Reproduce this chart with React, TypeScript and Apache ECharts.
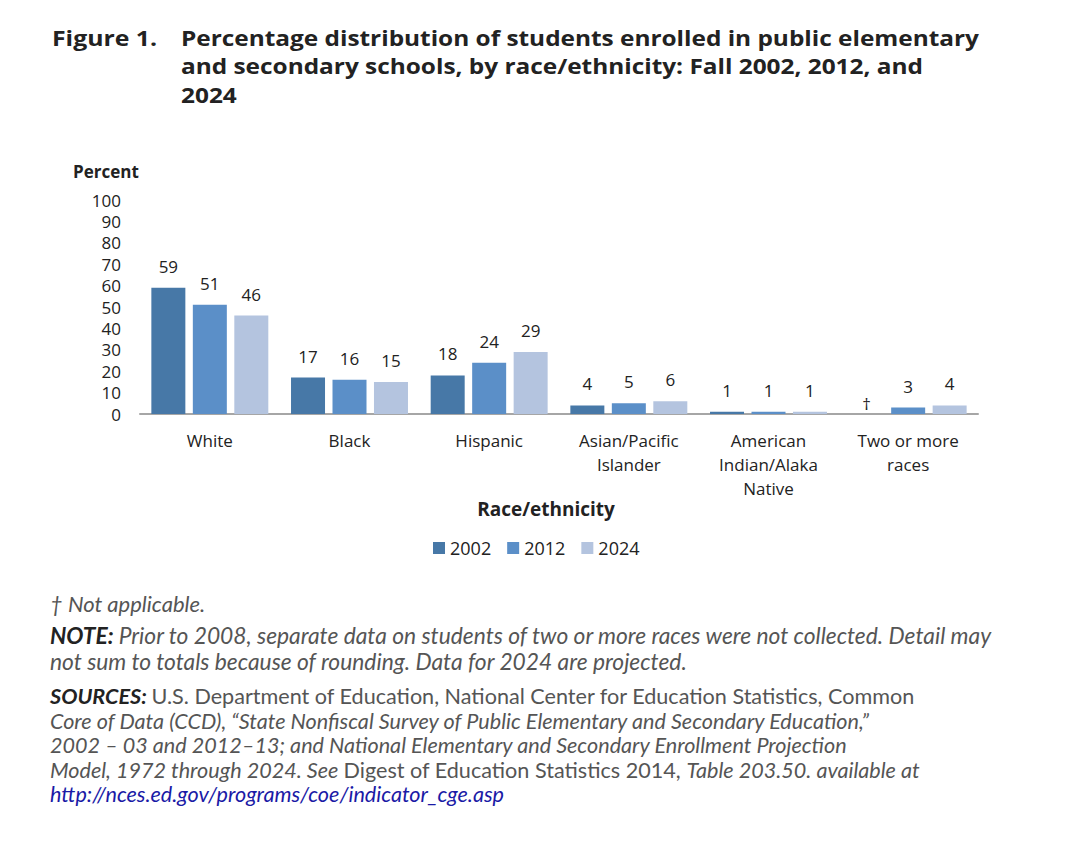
import React, { useEffect, useRef } from "react";
import * as echarts from "echarts";

const categories = [
  "White",
  "Black",
  "Hispanic",
  "Asian/Pacific\nIslander",
  "American\nIndian/Alaka\nNative",
  "Two or more\nraces",
];
const years = ["2002", "2012", "2024"];
const values2002: (number | null)[] = [59, 17, 18, 4, 1, null];
const values2012: (number | null)[] = [51, 16, 24, 5, 1, 3];
const values2024: (number | null)[] = [46, 15, 29, 6, 1, 4];
const yTicks = { min: 0, max: 100, interval: 10 };
const colors = ["#4778a7", "#5b8fc8", "#b4c4df"];
const titleLines = [
  "Percentage distribution of students enrolled in public elementary",
  "and secondary schools, by race/ethnicity: Fall 2002, 2012, and",
  "2024",
];

const chartFont = "'Open Sans', 'Noto Sans', sans-serif";
const textFont = "Lato, 'Open Sans', sans-serif";

export default function App() {
  const ref = useRef<HTMLDivElement>(null);
  useEffect(() => {
    document.body.style.margin = "0";
    if (!ref.current) return;
    const chart = echarts.init(ref.current, null, { renderer: "svg" });
    const mkSeries = (name: string, vals: (number | null)[], color: string) => ({
      name,
      type: "bar",
      barWidth: 34,
      barGap: "22%",
      itemStyle: { color },
      label: {
        show: true,
        position: "top",
        distance: 13,
        color: "#222",
        fontSize: 17,
        fontFamily: chartFont,
      },
      data: vals.map((v) =>
        v === null
          ? { value: 0, label: { formatter: "\u2020", distance: 2 } }
          : v
      ),
    });
    const italic = (size: number) => ({
      fontFamily: textFont,
      fontStyle: "italic",
      fontSize: size,
      fill: "#555",
    });
    const bold = (size: number) => ({
      fontFamily: textFont,
      fontStyle: "italic",
      fontWeight: "bold",
      fontSize: size,
      fill: "#222",
    });
    const titleStyle = {
      fontFamily: chartFont,
      fontWeight: "bold",
      fontSize: 20.5,
      lineHeight: 22,
      fill: "#222",
      verticalAlign: "middle",
    };
    chart.setOption({
      animation: false,
      backgroundColor: "#fff",
      grid: { left: 140, right: 97, top: 200, bottom: 433 },
      legend: {
        data: years,
        top: 534,
        left: 428,
        itemWidth: 12,
        itemHeight: 12,
        itemGap: 16,
        icon: "rect",
        textStyle: { color: "#222", fontSize: 18, fontFamily: chartFont },
      },
      xAxis: {
        type: "category",
        data: categories,
        axisTick: { show: false },
        axisLine: { lineStyle: { color: "#a6a6a6", width: 2 } },
        axisLabel: {
          color: "#222",
          fontSize: 17,
          fontFamily: chartFont,
          lineHeight: 24,
          margin: 14,
          interval: 0,
        },
      },
      yAxis: {
        type: "value",
        min: yTicks.min,
        max: yTicks.max,
        interval: yTicks.interval,
        axisLine: { show: false },
        axisTick: { show: false },
        splitLine: { show: false },
        axisLabel: {
          color: "#222",
          fontSize: 17,
          fontFamily: chartFont,
          margin: 19,
        },
      },
      series: [
        mkSeries(years[0], values2002, colors[0]),
        mkSeries(years[1], values2012, colors[1]),
        mkSeries(years[2], values2024, colors[2]),
      ],
      graphic: [
        {
          type: "text",
          x: 52,
          y: 38,
          scaleX: 1.21,
          style: { text: "Figure 1.", ...titleStyle },
        },
        ...titleLines.map((t, i) => ({
          type: "text",
          x: 181,
          y: 38 + i * 28.5,
          scaleX: 1.19,
          style: { text: t, ...titleStyle },
        })),
        {
          type: "text",
          left: 73,
          top: 163,
          style: {
            text: "Percent",
            fontFamily: chartFont,
            fontWeight: "bold",
            fontSize: 17,
            fill: "#222",
          },
        },
        {
          type: "text",
          x: 546,
          y: 509,
          style: {
            text: "Race/ethnicity",
            fontFamily: chartFont,
            fontWeight: "bold",
            fontSize: 19,
            fill: "#222",
            align: "center",
            verticalAlign: "middle",
          },
        },
        {
          type: "text",
          left: 50,
          top: 591,
          style: { text: "\u2020 Not applicable.", ...italic(22), lineHeight: 24 },
        },
        {
          type: "text",
          left: 50,
          top: 623,
          style: {
            text:
              "{b|NOTE: }{i|Prior to 2008, separate data on students of two or more races were not collected. Detail may}\n{i|not sum to totals because of rounding. Data for 2024 are projected.}",
            rich: {
              b: { ...bold(22.8), lineHeight: 26 },
              i: { ...italic(22.8), lineHeight: 26 },
            },
          },
        },
        {
          type: "text",
          left: 50,
          top: 685,
          style: {
            text:
              "{b|SOURCES: }{n|U.S. Department of Education, National Center for Education Statistics, Common}\n{i|Core of Data (CCD), \u201cState Nonfiscal Survey of Public Elementary and Secondary Education,\u201d}\n{i|2002 \u2013 03 and 2012\u201313; and National Elementary and Secondary Enrollment Projection}\n{i|Model, 1972 through 2024. See }{n|Digest of Education Statistics 2014, }{i|Table 203.50. available at}\n{l|http://nces.ed.gov/programs/coe/indicator_cge.asp}",
            rich: {
              b: { ...bold(21.6), lineHeight: 24.5 },
              i: { ...italic(21.6), lineHeight: 24.5 },
              n: { ...italic(21.6), fontStyle: "normal", lineHeight: 24.5 },
              l: { ...italic(21.6), fill: "#1a1aa6", lineHeight: 24.5 },
            },
          },
        },
      ],
    });
    return () => chart.dispose();
  }, []);
  return <div ref={ref} style={{ width: 1075, height: 847 }} />;
}
